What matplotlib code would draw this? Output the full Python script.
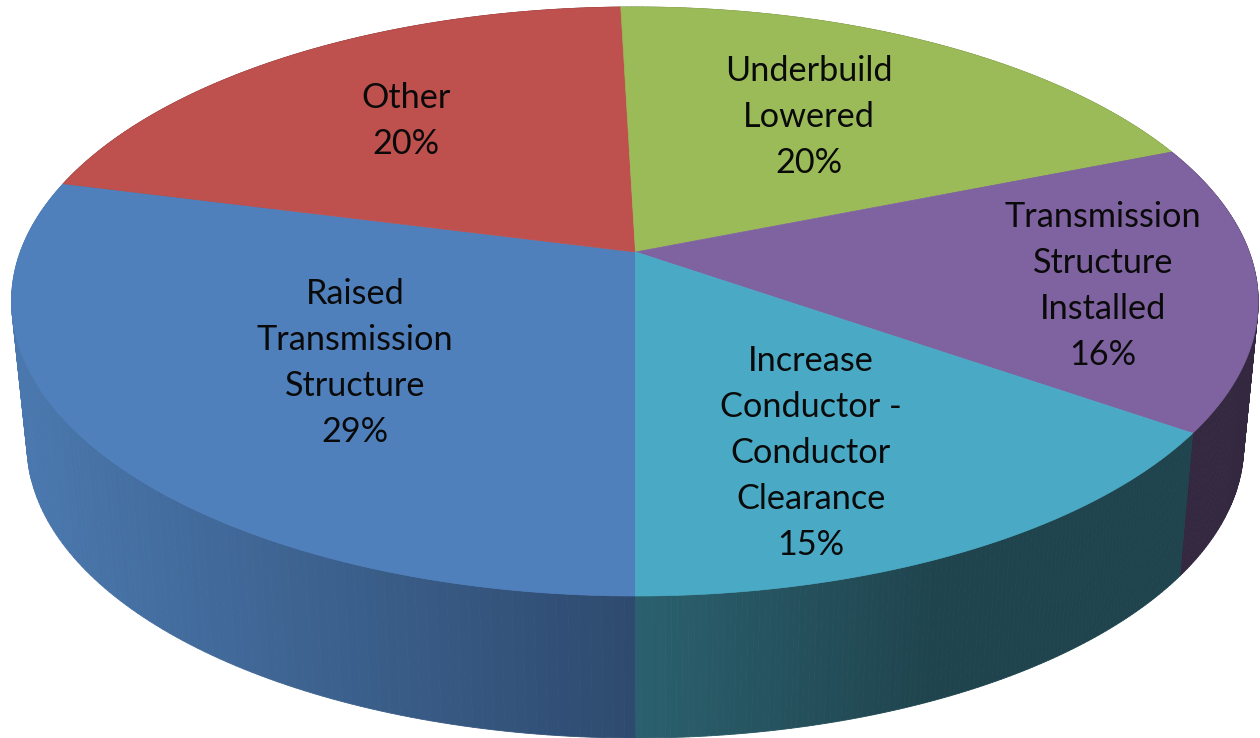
import numpy as np
import matplotlib
matplotlib.use('Agg')
import matplotlib.pyplot as plt
from matplotlib.colors import to_rgb

plt.rcParams['font.family'] = ['Lato', 'DejaVu Sans']

# clockwise from the front of the pie
names = ['Raised\nTransmission\nStructure', 'Other', 'Underbuild\nLowered',
         'Transmission\nStructure\nInstalled', 'Increase\nConductor -\nConductor\nClearance']
percent = [29, 20, 20, 16, 15]
# shares as drawn, measured from the slice edges
shares = [29.0, 20.6, 19.35, 15.75, 15.3]

top_colors = ['#4F80BC', '#BE504D', '#9BBB59', '#7F62A0', '#4AAAC5']
side_left = ['#4A78AE', '#6E3230', '#5F7335', '#33283F', '#2B606E']
side_right = ['#2E4A6E', '#6E3230', '#5F7335', '#33283F', '#1F444E']
label_x = [355, 406, 809, 1103, 811]
label_y = [363, 121, 117, 286, 453]

# perspective of the top face, in pixels
apex_x, apex_y = 635.5, 252
k = 0.168
a = 614.5
c = 286.2
lean = 1.5
# bottom face is the top face moved down and a bit smaller
ell_x, ell_y = 633.5, 301.5
low_x, low_y = 634, 445
sx, sy = 609 / 624, 293 / 294.5


def top_point(phi):
    x = -np.sin(phi)
    y = -np.cos(phi)
    d = 1 + k * y
    return apex_x + a * x / d - lean * (1 + y) / 2, apex_y - c * y / d


def low_point(phi):
    px, py = top_point(phi)
    return low_x + (px - ell_x) * sx, low_y + (py - ell_y) * sy


fig = plt.figure(figsize=(12.6, 7.38), dpi=100)
ax = fig.add_axes([0, 0, 1, 1])
ax.set_xlim(0, 1260)
ax.set_ylim(738, 0)
ax.axis('off')

edges = np.cumsum([0] + shares) / sum(shares) * 2 * np.pi

# side wall first, in narrow strips for the shading
for i in range(len(shares)):
    phis = np.linspace(edges[i], edges[i + 1], 120)
    c0 = np.array(to_rgb(side_left[i]))
    c1 = np.array(to_rgb(side_right[i]))
    for p0, p1 in zip(phis[:-1], phis[1:]):
        x0, y0 = top_point(p0)
        x1, y1 = top_point(p1)
        x2, y2 = low_point(p1)
        x3, y3 = low_point(p0)
        xm = (x0 + x1) / 2
        if i == 0:
            t = np.clip((636 - xm) / 622, 0, 1)
            col = c1 + (c0 - c1) * t
        elif i == 4:
            t = np.clip((xm - 636) / 300, 0, 1)
            col = c0 + (c1 - c0) * t
        else:
            col = c0
        ax.fill([x0, x1, x2, x3], [y0, y1, y2, y3], color=col, lw=0.6, zorder=1)

# top face
for i in range(len(shares)):
    phis = np.linspace(edges[i], edges[i + 1], 200)
    xs, ys = top_point(phis)
    ax.fill(np.r_[apex_x, xs], np.r_[apex_y, ys], color=top_colors[i], lw=0.5, zorder=2)

for i in range(len(shares)):
    ax.text(label_x[i], label_y[i], '%s\n%d%%' % (names[i], percent[i]),
            ha='center', va='center', multialignment='center',
            fontsize=24.7, linespacing=1.54, color='#0A0A0A', zorder=3)

fig.savefig('out.png', dpi=100)
